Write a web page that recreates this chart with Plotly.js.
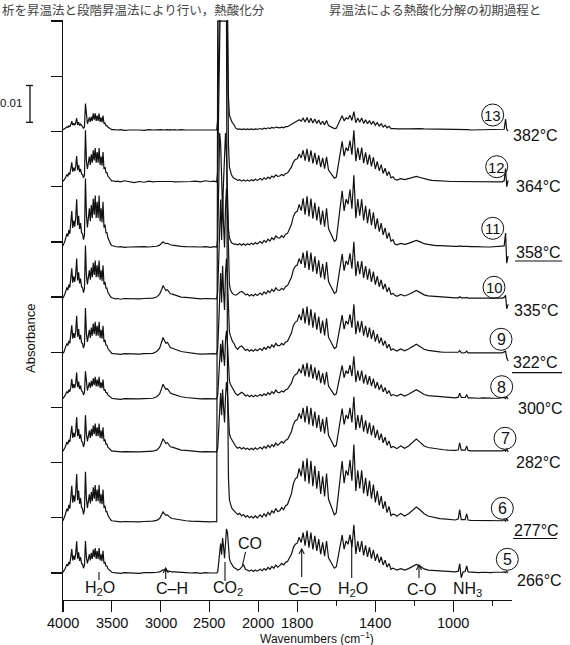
<!DOCTYPE html>
<html><head><meta charset="utf-8">
<script src="https://cdn.plot.ly/plotly-3.0.1.min.js"></script>
<style>html,body{margin:0;padding:0;background:#fff;}#chart{width:570px;height:645px;}</style>
</head><body><div id="chart"></div>
<script>
// ---------- DATA ----------
const wavenumbers = [
 4000,3990,3980,3970,3960,3950,3940,3930,3920,3910,3900,3890,3880,3870,3860,3850,3840,3830,3820,3810,3800,3790,3780,3770,3760,3750,3740,3730,3720,3710,3700,3690,3680,3670,3660,3650,3640,3630,3620,3610,3600,3590,3580,3570,3560,3550,3540,3530,3520,3510,3500,
 3480,3460,3440,3410,3370,3320,3270,3220,3170,3120,3080,3040,3010,2990,2975,2960,2945,2930,2915,2900,2880,2860,2830,2790,2740,2690,2640,2590,2540,2490,2450,2425,
 2415,2405,2395,2385,2375,2365,2355,2345,2335,2325,2315,2305,2295,2285,2275,2265,2250,
 2230,2210,2190,2170,2150,2130,2110,2090,2070,2050,2030,2010,1990,1980,1970,1960,1950,1940,1930,1920,1910,1900,
 1890,1880,1870,1860,1850,1840,1830,1820,1810,1800,1790,1780,1770,1760,1750,1740,1730,1720,1710,1700,1690,1680,1670,1660,1650,1640,1630,1620,1610,1600,
 1590,1580,1570,1560,1550,1540,1530,1520,1510,1500,1490,1480,1470,1460,1450,1440,1430,1420,1410,1400,1390,1380,1370,1360,1350,1340,1330,1320,1310,
 1300,1290,1270,1250,1230,1210,1190,1170,1150,1130,1110,1090,1070,1050,1030,1010,990,975,968,960,950,940,932,925,910,890,870,850,830,810,790,770,750,740,733,727,720
];
// absorbance in units of 0.001 above each spectrum's own baseline
const s5 = [
 0.2,0.5,1.1,1.7,2.4,1.9,3.0,2.4,3.9,6.5,3.4,4.7,3.6,5.2,8.6,3.9,5.6,3.3,4.3,2.6,2.4,1.3,2.2,8.7,4.3,2.6,3.8,5.1,3.4,5.5,3.8,6.4,4.3,6.8,3.8,6.0,3.8,6.8,3.4,5.1,3.2,6.0,2.6,3.0,1.9,1.9,1.2,0.9,0.5,0.3,0.2,
 0.1,0,0.1,-0.1,0.1,0,0.1,-0.1,0.1,0,0.1,0.2,0.3,0.6,0.9,0.7,0.6,0.7,0.5,0.4,0.3,0.3,0.2,0.2,0.1,0,0.1,-0.1,0.1,0,0.1,0,
 0.3,3,7,8,5,9.5,7,4,8,12,11,7,4,3,2.5,2,1.5,
 1.2,0.8,1.0,1.6,2.2,1.0,0.8,0.5,0.8,0.4,0.8,0.5,1.0,0.6,1.2,0.8,1.5,1.0,1.8,1.3,2.2,1.6,
 2.0,2.6,2.2,2.9,3.1,4.1,5.1,6.9,7.8,8.1,9.7,8.3,11.0,7.4,11.5,6.9,11.0,6.4,10.1,6.0,9.2,5.1,8.3,4.6,8.7,4.1,3.2,2.0,1.3,1.7,
 4.4,7.0,10.3,6.5,8.7,7.8,10.4,7.0,13.1,5.2,8.7,5.7,8.7,4.8,7.5,4.4,7.0,3.9,6.3,3.3,5.2,2.8,4.4,2.2,3.5,1.6,2.6,1.0,1.3,
 1.1,0.8,1.2,0.8,1.2,1.7,2.3,1.8,1.1,0.8,0.7,0.6,0.5,0.4,0.4,0.3,0.3,0.5,2.5,-1.3,0.3,0.4,1.9,0.3,0.2,0.2,0.1,0.2,0.1,0.1,0.2,0.1,0.2,0.3,0.1,0.5,0
];
const s6 = [
 0.3,0.8,1.7,2.6,3.6,2.9,4.6,3.6,5.9,9.8,5.2,7.2,5.5,7.8,13,5.9,8.5,4.9,6.5,3.9,3.6,2.0,3.3,13.6,6.3,3.8,5.6,7.5,5.0,8.1,5.6,9.4,6.3,10,5.6,8.8,5.6,10,5.0,7.5,4.8,8.8,3.8,4.4,2.8,2.8,1.8,1.3,0.8,0.5,0.3,
 0.2,0.1,0.1,0,0.1,0,0.1,0,0.1,0.1,0.2,0.4,0.9,1.9,2.7,2.2,1.8,1.9,1.4,1.1,0.9,0.8,0.6,0.4,0.3,0.2,0.1,0,0.1,0,0.1,0,
 136.1,136.1,136.1,136.1,136.1,136.1,136.1,136.1,136.1,136.1,40,12,6,4.5,4,3.5,3,
 2.5,2.0,2.3,1.6,2.0,1.3,1.7,1.1,1.5,1.0,1.6,1.1,1.9,1.3,2.2,1.5,2.6,1.9,3.0,2.4,3.6,2.8,
 3.0,3.9,3.3,4.4,4.7,6.2,7.6,10.4,11.7,12.1,14.5,12.4,16.6,11.0,17.3,10.4,16.6,9.7,15.2,9.0,13.8,7.6,12.4,6.9,13.1,6.2,4.8,3.0,1.9,2.5,
 7.0,11.2,16.5,10.5,14.0,12.6,16.8,11.2,21.0,8.4,14.0,9.1,14.0,7.7,12.0,7.0,11.2,6.3,10.1,5.3,8.4,4.5,7.0,3.5,5.6,2.5,4.2,1.7,2.1,
 2.0,1.5,2.3,1.6,2.2,3.2,4.0,3.2,2.2,1.6,1.3,1.1,0.9,0.8,0.7,0.6,0.5,0.8,3.3,0.6,0.5,0.6,2.2,0.5,0.4,0.4,0.3,0.3,0.2,0.2,0.3,0.2,0.3,0.6,0.1,0.9,0.2
];
const s7 = [
 0.2,0.6,1.2,1.9,2.7,2.1,3.3,2.7,4.3,7.1,3.8,5.2,4.0,5.7,9.5,4.3,6.2,3.6,4.8,2.9,2.7,1.4,2.4,10,4.8,2.9,4.3,5.8,3.8,6.2,4.3,7.2,4.8,7.7,4.3,6.7,4.3,7.7,3.8,5.8,3.6,6.7,2.9,3.4,2.1,2.1,1.3,1.0,0.6,0.4,0.2,
 0.2,0.1,0.1,0,0.1,0,0.1,0,0.1,0.1,0.2,0.5,1.3,2.5,3.6,2.9,2.3,2.5,1.8,1.4,1.3,1.1,0.8,0.5,0.4,0.2,0.1,0,0.1,0,0.1,0,
 1,6,14,16,10,17,12,8,15,19,16,8,5,4,3.5,3,2.5,
 1.5,1.0,1.3,0.8,1.2,0.7,1.0,0.6,1.0,0.6,1.1,0.7,1.3,0.8,1.5,1.0,1.8,1.2,2.0,1.5,2.4,1.8,
 2.2,2.8,2.4,3.2,3.4,4.5,5.5,7.5,8.5,8.8,10.5,9.0,12.0,8.0,12.5,7.5,12.0,7.0,11.0,6.5,10.0,5.5,9.0,5.0,9.5,4.5,3.5,2.2,1.4,1.8,
 5.0,8.0,11.8,7.5,10.0,9.0,12.0,8.0,15.0,6.0,10.0,6.5,10.0,5.5,8.6,5.0,8.0,4.5,7.2,3.8,6.0,3.2,5.0,2.5,4.0,1.8,3.0,1.2,1.5,
 1.2,0.9,1.6,1.0,1.6,2.5,3.5,2.6,1.6,1.2,1.0,0.9,0.7,0.6,0.5,0.4,0.4,0.6,2.5,0.5,0.4,0.5,1.6,0.4,0.3,0.3,0.2,0.3,0.2,0.2,0.3,0.2,0.3,0.5,0.2,0.8,0
];
const s8 = [
 0.1,0.4,0.9,1.4,2.0,1.6,2.5,2.0,3.2,5.4,2.9,4.0,3.0,4.3,7.2,3.2,4.7,2.7,3.6,2.2,2.0,1.1,1.8,7.5,3.8,2.3,3.4,4.5,3.0,4.9,3.4,5.6,3.8,6.0,3.4,5.3,3.4,6.0,3.0,4.5,2.9,5.3,2.3,2.6,1.7,1.7,1.1,0.8,0.5,0.3,0.2,
 0.1,0,0.1,-0.1,0.1,0,0.1,0,0.1,0.1,0.2,0.6,1.4,2.8,4.0,3.2,2.6,2.8,2.0,1.6,1.4,1.2,0.9,0.6,0.4,0.2,0.1,0,0.1,0,0.1,0,
 1,6,13,15,10,16,12,9,16,18.5,15,8,5,4,3.5,3,2.5,
 1.4,1.0,1.5,1.8,1.4,0.8,1.1,0.6,1.0,0.6,1.0,0.7,1.2,0.8,1.4,1.0,1.7,1.2,2.0,1.5,2.4,1.8,
 1.7,2.2,1.9,2.5,2.7,3.5,4.3,5.9,6.6,6.9,8.2,7.0,9.4,6.2,9.8,5.9,9.4,5.5,8.6,5.1,7.8,4.3,7.0,3.9,7.4,3.5,2.7,1.7,1.1,1.4,
 3.9,6.2,9.1,5.8,7.7,6.9,9.2,6.2,11.6,4.6,7.7,5.0,7.7,4.2,6.6,3.9,6.2,3.5,5.5,2.9,4.6,2.5,3.9,1.9,3.1,1.4,2.3,0.9,1.2,
 1.0,0.8,1.3,0.8,1.3,1.9,2.5,1.9,1.2,0.9,0.8,0.7,0.6,0.5,0.4,0.4,0.3,0.5,1.6,0.4,0.3,0.4,1.2,0.3,0.3,0.2,0.2,0.3,0.2,0.2,0.2,0.2,0.3,0.4,0.1,0.6,0
];
const s9 = [
 0.2,0.6,1.4,2.1,2.9,2.3,3.6,2.9,4.7,7.8,4.2,5.7,4.4,6.2,10.4,4.7,6.8,4.0,5.2,3.1,2.9,1.6,2.6,12.5,5.5,3.3,5.0,6.6,4.4,7.2,5.0,8.3,5.5,8.8,5.0,7.7,5.0,8.8,4.4,6.6,4.2,7.7,3.3,3.9,2.4,2.4,1.5,1.1,0.7,0.4,0.2,
 0.1,0,0.1,-0.1,0.1,0,0.1,0,0.1,0.1,0.2,0.7,1.6,3.2,4.5,3.6,2.9,3.2,2.3,1.8,1.6,1.4,1.0,0.7,0.5,0.2,0.1,0,0.1,0,0.1,0,
 1.5,8,18,22,14,24,17,12,22,26,20,10,6,5,4,3.5,3,
 1.8,1.3,2.0,2.2,1.6,1.0,1.3,0.8,1.2,0.8,1.3,0.9,1.5,1.0,1.8,1.3,2.1,1.6,2.5,1.9,2.9,2.3,
 2.3,2.9,2.5,3.3,3.5,4.6,5.7,7.8,8.7,9.0,10.8,9.2,12.4,8.3,12.9,7.8,12.2,7.2,11.3,6.6,10.2,5.6,9.1,5.1,9.7,4.6,3.6,2.3,1.5,1.9,
 4.5,7.2,10.6,6.8,9.0,8.1,10.8,7.2,13.5,5.4,9.0,5.9,9.0,5.0,7.7,4.5,7.2,4.1,6.5,3.4,5.4,2.9,4.5,2.3,3.6,1.6,2.7,1.1,1.4,
 1.1,0.8,1.4,0.9,1.4,2.0,2.7,2.0,1.3,1.0,0.8,0.7,0.6,0.5,0.5,0.4,0.4,0.5,1.0,0.4,0.3,0.4,0.8,0.3,0.3,0.3,0.2,0.3,0.2,0.2,0.3,0.2,0.3,0.6,0.8,-1.0,-1.9
];
const s10 = [
 0.2,0.7,1.4,2.2,3.1,2.4,3.9,3.1,5.0,8.3,4.4,6.1,4.6,6.6,11,5.0,7.2,4.2,5.5,3.3,3.1,1.7,2.8,14.5,6.5,3.9,5.9,7.8,5.2,8.5,5.9,9.8,6.5,10.4,5.9,9.1,5.9,10.4,5.2,7.8,4.9,9.1,3.9,4.6,2.9,2.9,1.8,1.3,0.8,0.5,0.3,
 0.1,0,0.1,-0.1,0.1,0,0.1,0,0.1,0.1,0.2,0.5,1.3,2.5,3.6,2.9,2.3,2.5,1.8,1.4,1.3,1.1,0.8,0.5,0.4,0.2,0.1,0,0.1,0,0.1,0,
 2,10,22,27,16,28,20,14,25,30,24,8,4,2.5,2,1.5,1.2,
 1.0,1.3,1.8,2.0,1.7,1.1,1.3,0.8,1.2,0.8,1.3,0.9,1.6,1.1,1.9,1.4,2.2,1.7,2.6,2.0,3.0,2.4,
 2.3,2.9,2.5,3.4,3.6,4.7,5.8,7.9,8.9,9.2,11.0,9.5,12.6,8.4,13.1,7.9,12.6,7.4,11.6,6.8,10.5,5.8,9.5,5.3,10.0,4.7,3.7,2.3,1.5,1.9,
 5.2,8.2,12.2,7.7,10.3,9.3,12.4,8.2,15.5,6.2,10.3,6.7,10.3,5.7,8.9,5.2,8.2,4.6,7.4,3.9,6.2,3.3,5.2,2.6,4.1,1.9,3.1,1.2,1.5,
 1.0,0.7,1.2,0.8,1.2,1.7,2.3,1.7,1.1,0.8,0.7,0.6,0.5,0.4,0.4,0.3,0.3,0.3,0.6,0.3,0.2,0.3,0.4,0.2,0.2,0.2,0.1,0.2,0.1,0.1,0.2,0.1,0.2,0.4,1.0,-2.7,-1.5
];
const s11 = [
 0.3,0.8,1.7,2.6,3.6,2.9,4.6,3.6,5.9,9.8,5.2,7.2,5.5,7.8,13,5.9,8.5,4.9,6.5,3.9,3.6,2.0,3.3,18.6,8.8,5.3,7.9,10.5,7.0,11.4,7.9,13.1,8.8,14,7.9,12.3,7.9,14,7.0,10.5,6.7,12.3,5.3,6.1,3.9,3.9,2.5,1.8,1.1,0.7,0.4,
 0.2,0.1,0,0.1,-0.1,0,0.1,0,0.1,0,0.1,0.2,0.5,1.0,1.4,1.1,0.9,1.0,0.7,0.6,0.5,0.4,0.3,0.2,0.1,0,0.1,0,0.1,-0.1,0.1,0,
 2,15,31,28,18,10,18,26,31,25,12,5,2.5,1.5,1.2,1,0.8,
 0.8,0.6,0.9,0.5,0.9,0.5,0.9,0.6,1.0,0.7,1.2,0.8,1.5,1.0,1.8,1.3,2.1,1.6,2.5,2.0,3.0,2.5,
 2.4,3.1,2.6,3.5,3.7,5.0,6.1,8.3,9.4,9.7,11.6,9.9,13.2,8.8,13.8,8.3,13.2,7.7,12.1,7.2,11.0,6.1,9.9,5.5,10.5,5.0,3.9,2.4,1.5,2.0,
 6.5,10.4,15.3,9.8,13.0,11.7,15.6,10.4,19.5,7.8,13.0,8.5,13.0,7.2,11.2,6.5,10.4,5.9,9.4,4.9,7.8,4.2,6.5,3.3,5.2,2.3,3.9,1.6,2.0,
 0.8,0.6,1.0,0.7,1.0,1.4,1.8,1.4,0.9,0.7,0.5,0.4,0.4,0.3,0.3,0.2,0.2,0.2,0.3,0.2,0.1,0.2,0.2,0.1,0.1,0.1,0,0.1,0,0,0.1,0,0.1,0.3,3.8,-4.4,-2.5
];
const s12 = [
 0.1,0.4,0.9,1.4,2.0,1.5,2.5,2.0,3.2,5.3,2.8,3.9,2.9,4.2,7,3.2,4.6,2.7,3.5,2.1,2.0,1.1,1.8,14,5.8,3.5,5.2,6.9,4.6,7.5,5.2,8.6,5.8,9.2,5.2,8.1,5.2,9.2,4.6,6.9,4.4,8.1,3.5,4.0,2.5,2.5,1.6,1.2,0.7,0.5,0.2,
 0.3,0.1,0.2,0,0.3,0,-0.2,0.1,-0.1,0.2,0,0.1,0.1,0.2,0.3,0.2,0.2,0.2,0.1,0.1,0.1,0,0,0.1,-0.1,0.1,0.2,0,0.3,0.1,0.2,0,
 3,20,48,55,50,55,48,50,55,55,40,10,4,2.5,2,1.5,1,
 0.8,0.4,0.6,0.2,0.5,0.2,0.5,0.2,0.6,0.3,0.7,0.4,0.9,0.5,1.1,0.7,1.3,0.9,1.6,1.2,1.9,1.5,
 1.6,2.0,1.7,2.3,2.4,3.2,4.0,5.4,6.1,6.3,7.6,6.5,8.6,5.8,9.0,5.4,8.6,5.0,7.9,4.7,7.2,4.0,6.5,3.6,6.8,3.2,2.5,1.6,1.0,1.3,
 4.7,7.4,11.0,7.0,9.3,8.4,11.2,7.4,14.0,5.6,9.3,6.0,9.3,5.1,8.0,4.7,7.4,4.2,6.7,3.5,5.6,3.0,4.7,2.3,3.7,1.7,2.8,1.1,1.4,
 0.7,0.5,0.9,0.6,0.9,1.2,1.5,1.2,0.8,0.6,0.4,0.3,0.3,0.2,0.2,0.1,0.1,0.1,0.2,0.1,0.1,0.1,0.1,0.1,0,0.1,0,0.1,0,0.1,0,0.1,0,0.3,3.6,-1.3,0.4
];
const s13 = [
 0.1,0.2,0.4,0.6,0.9,0.7,1.1,0.9,1.4,2.4,1.3,1.8,1.3,1.9,3.2,1.4,2.1,1.2,1.6,1.0,0.9,0.5,0.8,7.2,2.8,1.7,2.5,3.4,2.2,3.6,2.5,4.5,2.8,4.5,2.5,3.9,2.5,4.5,2.2,3.4,2.1,3.9,1.7,2.0,1.2,1.2,0.8,0.6,0.3,0.2,0.1,
 0.1,0,0,0.1,-0.1,0,0.1,0,-0.1,0.1,0,0.1,0,0.1,0,0.1,0,0.1,0,0.1,0,0.1,0,0.1,0,0,0.1,0,-0.1,0,0.1,0,
 3,20,45,55,50,55,48,50,55,55,35,9,4,3,2.5,2,1.5,
 0.5,0.2,0.3,0.1,0.3,0.1,0.3,0.1,0.3,0.1,0.3,0.2,0.4,0.2,0.5,0.3,0.6,0.4,0.7,0.5,0.8,0.6,
 0.6,0.8,0.6,0.9,0.9,1.2,1.5,2.0,2.3,2.4,2.8,2.4,3.2,2.2,3.4,2.0,3.2,1.9,3.0,1.8,2.7,1.5,2.4,1.4,2.6,1.2,0.9,0.6,0.4,0.5,
 1.7,2.6,3.9,2.5,3.3,3.0,4.0,2.6,5.0,2.0,3.3,2.1,3.3,1.8,2.8,1.7,2.6,1.5,2.4,1.3,2.0,1.1,1.7,0.8,1.3,0.6,1.0,0.4,0.5,
 0.4,0.3,0.4,0.3,0.3,0.4,0.5,0.4,0.3,0.3,0.2,0.2,0.2,0.1,0.1,0.1,0.1,0.1,0.1,0.1,0.1,0.1,0.1,0.1,0,0,0,0,0,0,0,0,0,0.2,3.0,0.2,-0.3
];
const spectra = [s5,s6,s7,s8,s9,s10,s11,s12,s13];
const runNumbers = ['5','6','7','8','9','10','11','12','13'];
const temperatures = ['266°C','277°C','282°C','300°C','322°C','335°C','358°C','364°C','382°C'];
const offsets = [0,13.9,32.9,47.3,59.5,74.5,88.6,106.3,120.4];
const tickWavenumbers = [4000,3500,3000,2500,2000,1800,1400,1000];
const minorTickWavenumbers = [1600,1200,800];
const bandLabels = ['H<sub>2</sub>O','C–H','CO<sub>2</sub>','CO','C=O','H<sub>2</sub>O','C-O','NH<sub>3</sub>'];
const scaleBar = [122.5,132.5]; // 0.01 absorbance

// ---------- AXIS (scale doubles below 2000 cm-1) ----------
function axisPos(w){ return w >= 2000 ? 4000 - w : 2000 + 2*(2000 - w); }

// ---------- LAYOUT HELPERS ----------
const L=63, T=20, W=449, H=580;
const PX = v => (v - L)/W, PY = v => (T + H - v)/H;
const FONT = 'Liberation Sans, Arial, sans-serif';
function txt(text, x, y, size, anchor, extra){
  return Object.assign({text:text, xref:'paper', yref:'paper', x:PX(x), y:PY(y), xanchor:anchor||'center', yanchor:'middle',
    showarrow:false, borderpad:0, font:{family:FONT, size:size, color:'#111'}}, extra||{});
}
function seg(x0,y0,x1,y1,w){
  return {type:'line', xref:'paper', yref:'paper', x0:PX(x0), y0:PY(y0), x1:PX(x1), y1:PY(y1), line:{color:'#111', width:w||1.1}};
}
function head(x, y){
  return {type:'path', xref:'paper', yref:'paper',
    path:'M'+PX(x-2.6)+','+PY(y+5)+' L'+PX(x)+','+PY(y)+' L'+PX(x+2.6)+','+PY(y+5),
    line:{color:'#111', width:1.1}};
}

const xs = wavenumbers.map(axisPos);
const traces = spectra.map((s,i)=>({
  type:'scatter', mode:'lines', x:xs, y:s.map(v=>v+offsets[i]),
  line:{color:'#111', width:1.2}, hoverinfo:'skip', showlegend:false
}));

const tempPos = [[516,580],[513,530],[515,462],[517,408],[512,362],[513,310],[515,253],[515,187],[512,136]];
const circPos = [[507.3,559.3],[502.3,508.3],[505,438.3],[501.7,386.7],[501,339.3],[494,287.3],[492.7,228.3],[496.7,166.7],[492.7,115]];
const bandPos = [[99.7,588],[172,588],[227.5,588],[250,543],[304,589],[353,589],[421,589],[467,589]];

const annotations = [];
const shapes = [];
temperatures.forEach((t,i)=>annotations.push(txt(t, tempPos[i][0], tempPos[i][1], 16, 'left')));
runNumbers.forEach((n,i)=>{
  const [cx,cy] = circPos[i], r = 11;
  shapes.push({type:'circle', xref:'paper', yref:'paper', x0:PX(cx-r), x1:PX(cx+r), y0:PY(cy+r), y1:PY(cy-r), line:{color:'#111', width:1}});
  annotations.push(txt(n, cx, cy+0.5, n.length>1?15:16, 'center'));
});
// underlines
shapes.push(seg(513,538.5,557,538.5,1.2), seg(512,372.7,562,372.7,1.2), seg(515,261,562,261,1.2));
bandLabels.forEach((b,i)=>annotations.push(txt(b, bandPos[i][0], bandPos[i][1], 16, 'center')));
// pointers
shapes.push(seg(99,572,99,580), seg(225,562,225,581), seg(245.5,552,242.5,565), seg(351.7,540,351.7,578));
shapes.push(seg(165.7,568,165.7,579), head(165.7,568));
shapes.push(seg(301.7,549,301.7,577), head(301.7,549));
shapes.push(seg(419,565,419,578), head(419,565));
// scale bar
shapes.push({type:'line', xref:'paper', yref:'y', x0:PX(30), x1:PX(30), y0:scaleBar[0], y1:scaleBar[1], line:{color:'#111', width:1.3}});
shapes.push({type:'line', xref:'paper', yref:'y', x0:PX(26), x1:PX(33), y0:scaleBar[0], y1:scaleBar[0], line:{color:'#111', width:1.3}});
shapes.push({type:'line', xref:'paper', yref:'y', x0:PX(26), x1:PX(33), y0:scaleBar[1], y1:scaleBar[1], line:{color:'#111', width:1.3}});
annotations.push(txt('0.01', 22.5, 103, 11.5, 'right'));
annotations.push(txt('Absorbance', 30, 339, 13, 'center', {textangle:-90}));
// x tick labels placed on the axis scale
tickWavenumbers.forEach(w=>annotations.push({text:String(w), xref:'x', yref:'paper', x:axisPos(w), y:PY(622.5), xanchor:'center', yanchor:'middle',
  showarrow:false, borderpad:0, font:{family:FONT, size:14.5, color:'#111'}}));
annotations.push(txt('Wavenumbers (cm<sup>−1</sup>)', 316.7, 637.5, 12, 'center'));
// page header text (from the scanned page above the figure)
const hdrFont = {family:'Noto Sans CJK JP, sans-serif', size:12.5, color:'#444'};
annotations.push(Object.assign(txt('析を昇温法と段階昇温法により行い，熱酸化分', 1, 9.5, 12.5, 'left'), {font:hdrFont}));
annotations.push(Object.assign(txt('昇温法による熱酸化分解の初期過程と', 328, 9.5, 12.5, 'left'), {font:hdrFont}));

const layout = {
  width:570, height:645, margin:{l:L, r:570-L-W, t:T, b:645-T-H, pad:0},
  paper_bgcolor:'#fff', plot_bgcolor:'#fff', showlegend:false,
  xaxis:{range:[0,4600], tickmode:'array', tickvals:tickWavenumbers.map(axisPos), showticklabels:false,
    ticks:'outside', ticklen:11, tickwidth:1.3, tickcolor:'#111', showline:true, linecolor:'#111', linewidth:1.3,
    showgrid:false, zeroline:false,
    minor:{tickmode:'array', tickvals:minorTickWavenumbers.map(axisPos), ticks:'outside', ticklen:5, tickwidth:1.3, tickcolor:'#111', showgrid:false}},
  yaxis:{range:[-7.34,150.3], tickmode:'linear', tick0:0, dtick:15, ticks:'outside', ticklen:11, tickwidth:1.3, tickcolor:'#111',
    showticklabels:false, showline:true, linecolor:'#111', linewidth:1.3, showgrid:false, zeroline:false},
  annotations:annotations, shapes:shapes
};
Plotly.newPlot('chart', traces, layout, {staticPlot:true, displayModeBar:false});
</script></body></html>
